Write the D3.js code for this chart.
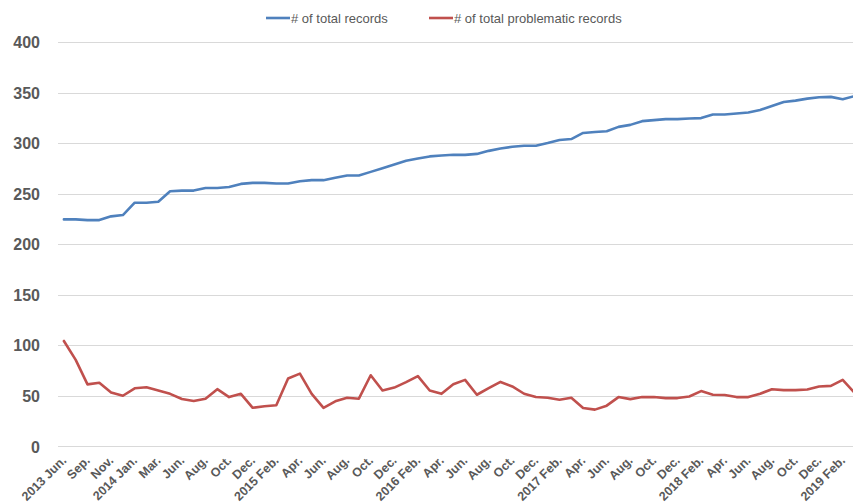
<!DOCTYPE html>
<html>
<head>
<meta charset="utf-8">
<script src="https://cdn.jsdelivr.net/npm/d3@7"></script>
<style>
  html, body { margin: 0; padding: 0; background: #fff; }
  svg { display: block; }
  text { font-family: "Liberation Sans", Arial, sans-serif; fill: #595959; }
</style>
</head>
<body>
<svg id="chart" width="853" height="504"></svg>
<script>
// Monthly categories (two months absent in the source series)
const categories = [
  "2013 Jun.","2013 Jul.","2013 Sep.","2013 Oct.","2013 Nov.","2013 Dec.",
  "2014 Jan.","2014 Feb.","2014 Mar.","2014 Apr.","2014 Jun.","2014 Jul.","2014 Aug.","2014 Sep.","2014 Oct.","2014 Nov.","2014 Dec.",
  "2015 Jan.","2015 Feb.","2015 Mar.","2015 Apr.","2015 May.","2015 Jun.","2015 Jul.","2015 Aug.","2015 Sep.","2015 Oct.","2015 Nov.","2015 Dec.",
  "2016 Jan.","2016 Feb.","2016 Mar.","2016 Apr.","2016 May.","2016 Jun.","2016 Jul.","2016 Aug.","2016 Sep.","2016 Oct.","2016 Nov.","2016 Dec.",
  "2017 Jan.","2017 Feb.","2017 Mar.","2017 Apr.","2017 May.","2017 Jun.","2017 Jul.","2017 Aug.","2017 Sep.","2017 Oct.","2017 Nov.","2017 Dec.",
  "2018 Jan.","2018 Feb.","2018 Mar.","2018 Apr.","2018 May.","2018 Jun.","2018 Jul.","2018 Aug.","2018 Sep.","2018 Oct.","2018 Nov.","2018 Dec.",
  "2019 Jan.","2019 Feb.","2019 Mar."
];

// Labels shown on every second category
const tickLabels = [
  "2013 Jun.","Sep.","Nov.","2014 Jan.","Mar.","Jun.","Aug.","Oct.","Dec.",
  "2015 Feb.","Apr.","Jun.","Aug.","Oct.","Dec.",
  "2016 Feb.","Apr.","Jun.","Aug.","Oct.","Dec.",
  "2017 Feb.","Apr.","Jun.","Aug.","Oct.","Dec.",
  "2018 Feb.","Apr.","Jun.","Aug.","Oct.","Dec.",
  "2019 Feb."
];

const totalRecords = [
  224.5,224.5,223.8,223.8,227.5,228.8,241,241,242,252.3,
  253,253,255.6,255.6,256.6,259.6,260.6,260.6,260,260,
  262.3,263.3,263.3,265.6,267.9,267.9,271.5,275.2,278.8,282.5,
  284.8,286.8,287.7,288.5,288.3,289.3,292.3,294.7,296.3,297.3,
  297.3,300,303,304,310,311,311.7,316,318,321.7,
  322.7,323.7,323.7,324.3,324.7,328.3,328.3,329.3,330.3,332.7,
  336.7,340.7,342,344,345.3,345.7,343.3,346.5
];

const problematicRecords = [
  104.2,85.5,61.3,62.9,53.2,50,57.4,58.4,55.2,51.9,
  46.8,44.8,47.1,56.5,48.7,51.9,38.1,39.7,40.6,67.1,
  71.9,51.9,38.1,44.5,48.1,47.1,70.3,55.2,58.1,63.5,
  69.4,55.2,51.9,61.3,65.7,51,57.5,63.7,59.2,52,
  48.7,48,46.1,48,37.9,36.3,40.2,48.7,46.7,48.7,
  48.7,47.7,47.7,49.3,54.6,51,50.7,48.7,48.7,52,
  56.5,55.6,55.6,56.2,59.2,59.8,65.7,53
];

const yTicks = [0, 50, 100, 150, 200, 250, 300, 350, 400];

const seriesNames = ["# of total records", "# of total problematic records"];
const seriesColors = ["#4f81bd", "#c0504d"];

const svg = d3.select("#chart");
const W = 853;

const x = d3.scaleBand().domain(categories).range([58, 860.4]);
const y = d3.scaleLinear().domain([0, 400]).range([446.3, 42]);
const cx = d => x(d) + x.bandwidth() / 2;

// horizontal gridlines
svg.append("g")
  .selectAll("line")
  .data(yTicks)
  .join("line")
  .attr("x1", 58).attr("x2", W)
  .attr("y1", d => Math.round(y(d)) + 0.5)
  .attr("y2", d => Math.round(y(d)) + 0.5)
  .attr("stroke", "#d9d9d9")
  .attr("stroke-width", 1);

// y axis labels
const yAxis = d3.axisLeft(y).tickValues(yTicks).tickSize(0).tickPadding(0);
svg.append("g")
  .attr("transform", "translate(40,0)")
  .call(yAxis)
  .call(g => g.select(".domain").remove())
  .call(g => g.selectAll("text")
    .attr("font-family", "'Liberation Sans', Arial, sans-serif")
    .attr("font-size", 16)
    .attr("font-weight", "bold")
    .attr("fill", "#595959")
    .attr("dy", "0.36em"));

// x axis labels (every second category), rotated
const tickCats = categories.filter((d, i) => i % 2 === 0);
const labelOf = new Map(tickCats.map((d, i) => [d, tickLabels[i]]));
const xAxis = d3.axisBottom(x).tickValues(tickCats).tickFormat(d => labelOf.get(d)).tickSize(0).tickPadding(0);
svg.append("g")
  .attr("transform", "translate(0,446)")
  .call(xAxis)
  .call(g => g.select(".domain").remove())
  .call(g => g.selectAll("text")
    .attr("font-family", "'Liberation Sans', Arial, sans-serif")
    .attr("font-size", 12.5)
    .attr("font-weight", "bold")
    .attr("fill", "#595959")
    .attr("text-anchor", "end")
    .attr("dy", null)
    .attr("y", 0)
    .attr("transform", "translate(-3,9) rotate(-45)")
    .attr("dominant-baseline", "hanging"));

// series lines
const line = d3.line()
  .x((d, i) => cx(categories[i]))
  .y(d => y(d));

[totalRecords, problematicRecords].forEach((vals, si) => {
  svg.append("path")
    .datum(vals)
    .attr("fill", "none")
    .attr("stroke", seriesColors[si])
    .attr("stroke-width", 2.6)
    .attr("stroke-linejoin", "round")
    .attr("stroke-linecap", "round")
    .attr("d", line);
});

// legend
const legendX = [266, 429];
const lg = svg.append("g");
seriesNames.forEach((name, i) => {
  lg.append("line")
    .attr("x1", legendX[i]).attr("x2", legendX[i] + 24)
    .attr("y1", 18).attr("y2", 18)
    .attr("stroke", seriesColors[i])
    .attr("stroke-width", 2.6);
  lg.append("text")
    .attr("x", legendX[i] + 25)
    .attr("y", 22.5)
    .attr("font-size", 13)
    .text(name);
});
</script>
</body>
</html>
